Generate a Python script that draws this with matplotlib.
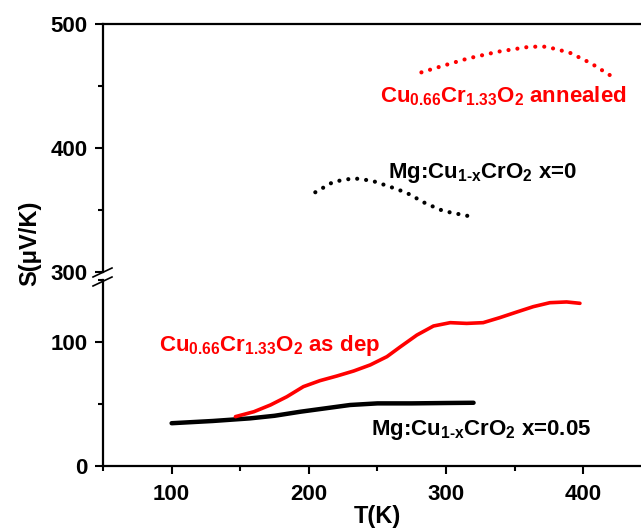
import matplotlib
matplotlib.use('Agg')
import matplotlib.pyplot as plt
from matplotlib.ticker import MultipleLocator

plt.rcParams['font.family'] = ['Liberation Sans', 'DejaVu Sans']
plt.rcParams['font.weight'] = 'bold'
plt.rcParams['mathtext.fontset'] = 'custom'
plt.rcParams['mathtext.rm'] = 'Liberation Sans:bold'
plt.rcParams['mathtext.bf'] = 'Liberation Sans:bold'
plt.rcParams['mathtext.it'] = 'Liberation Sans:bold'
plt.rcParams['mathtext.default'] = 'bf'

# Mg:Cu1-xCrO2 x=0.05 (solid black)
t_mg05 = [100, 130, 157, 175, 194, 212, 230, 250, 275, 300, 320]
s_mg05 = [34.5, 36.3, 38.4, 40.5, 43.8, 46.5, 49.2, 50.5, 50.5, 50.8, 51]

# Cu0.66Cr1.33O2 as deposited (solid red)
t_dep = [146.5, 160, 172, 184, 196, 208, 220.5, 232.6, 244.7, 256.9, 266.5,
         278.7, 290.8, 303, 315, 327, 339, 351, 363.5, 375.6, 387.8, 397.5]
s_dep = [39.8, 43.8, 49.2, 55.9, 64, 68.8, 72.6, 76.6, 81.5, 88.2, 96,
         105.6, 112.9, 115.6, 115, 115.6, 119.6, 124, 128.5, 131.7, 132.3, 131.2]

# Mg:Cu1-xCrO2 x=0 (dotted black)
t_mg0 = [204.7, 218, 232.6, 246, 259, 271, 285, 298, 318.6]
s_mg0 = [364.3, 372.8, 375.6, 373.6, 368.8, 364, 355.4, 349.2, 344.6]

# Cu0.66Cr1.33O2 annealed (dotted red)
t_ann = [282, 298, 316.2, 338, 361, 373, 390, 405.6, 420.4]
s_ann = [461, 466.4, 472.3, 477.7, 481.7, 481.7, 476.9, 468.3, 458]

W, H = 641, 529
fig = plt.figure(figsize=(W / 100, H / 100), dpi=100)
left = 103 / W
ax_top = fig.add_axes([left, 1 - 272 / H, 1 - left, (272 - 24) / H])
ax_bot = fig.add_axes([left, 1 - 466 / H, 1 - left, (466 - 280) / H])

dots = dict(linestyle=(0, (0.01, 2.15)), dash_capstyle='round', lw=3.0)
ax_top.plot(t_mg0, s_mg0, color='black', **dots)
ax_top.plot(t_ann, s_ann, color='red', **dots)
ax_bot.plot(t_mg05, s_mg05, color='black', lw=3.2, solid_capstyle='round')
ax_bot.plot(t_dep, s_dep, color='red', lw=2.6, solid_capstyle='round')

for ax in (ax_top, ax_bot):
    ax.set_xlim(50, 442)
    ax.spines['right'].set_visible(False)
    for sp in ax.spines.values():
        sp.set_linewidth(1.6)
    ax.tick_params(which='major', direction='out', length=6, width=1.5,
                   labelsize=16, pad=5)
    ax.tick_params(which='minor', direction='out', length=3.5, width=1.5)
    ax.xaxis.set_major_locator(MultipleLocator(100))
    ax.xaxis.set_minor_locator(MultipleLocator(50))
    ax.patch.set_alpha(0)

ax_top.set_ylim(300, 500)
ax_top.yaxis.set_major_locator(MultipleLocator(100))
ax_top.yaxis.set_minor_locator(MultipleLocator(50))
ax_top.spines['bottom'].set_visible(False)
ax_top.tick_params(axis='x', which='both', bottom=False, labelbottom=False)

ax_bot.set_ylim(0, 150)
ax_bot.set_yticks([0, 100])
ax_bot.yaxis.set_minor_locator(MultipleLocator(50))
ax_bot.spines['top'].set_visible(False)
ax_bot.tick_params(axis='x', pad=7)

# break marks on the y axis
for yc in (272.5, 281.5):
    fig.add_artist(plt.Line2D([(102.5 - 9.5) / W, (102.5 + 9.5) / W],
                              [1 - (yc + 4.5) / H, 1 - (yc - 4.5) / H],
                              color='black', lw=1.2))

ax_top.text(252, 437, r'Cu$_{0.66}$Cr$_{1.33}$O$_{2}$ annealed',
            color='red', fontsize=16)
ax_top.text(258, 376, r'Mg:Cu$_{1\text{-}x}$CrO$_{2}$ x=0',
            color='black', fontsize=16)
ax_bot.text(91, 93, r'Cu$_{0.66}$Cr$_{1.33}$O$_{2}$ as dep',
            color='red', fontsize=16)
ax_bot.text(245, 25, r'Mg:Cu$_{1\text{-}x}$CrO$_{2}$ x=0.05',
            color='black', fontsize=16)

fig.text(30 / W, 1 - 243 / H, 'S(μV/K)', rotation=90, ha='center',
         va='center', fontsize=17)
fig.text(377 / W, 1 - 517 / H, 'T(K)', ha='center', va='center', fontsize=17)

fig.savefig('out.png', dpi=100)
